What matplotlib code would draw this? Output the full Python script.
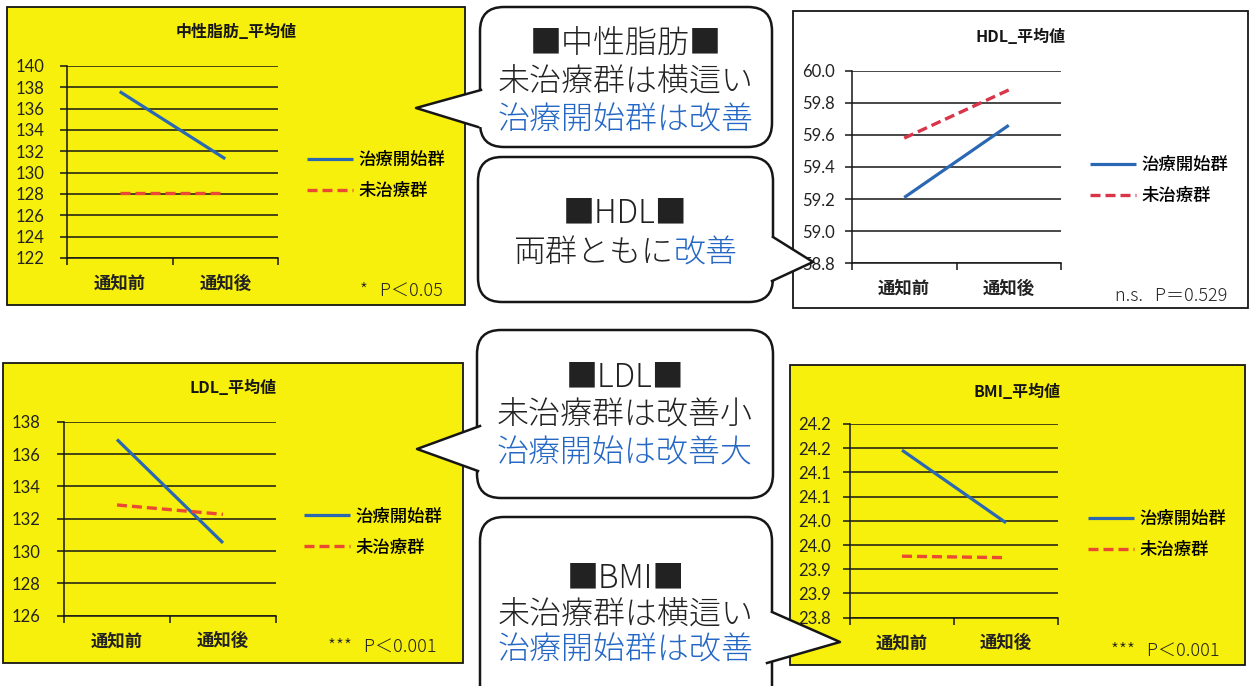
import numpy as np
import matplotlib.pyplot as plt
from matplotlib.patches import Rectangle, FancyBboxPatch, Polygon
from matplotlib.lines import Line2D

W, H = 1249, 686
plt.rcParams['font.family'] = ['Noto Sans CJK JP', 'DejaVu Sans']

categories = ['通知前', '通知後']
series_names = ['治療開始群', '未治療群']

# values (before / after notice)
tg_treated = [137.6, 131.3]
tg_untreated = [128.1, 128.1]
hdl_treated = [59.21, 59.66]
hdl_untreated = [59.58, 59.88]
ldl_treated = [136.9, 130.5]
ldl_untreated = [132.85, 132.27]
bmi_treated = [24.146, 23.996]
bmi_untreated = [23.927, 23.924]

tg_ticks = [122, 124, 126, 128, 130, 132, 134, 136, 138, 140]
hdl_ticks = [58.8, 59.0, 59.2, 59.4, 59.6, 59.8, 60.0]
ldl_ticks = [126, 128, 130, 132, 134, 136, 138]
bmi_ticks = [23.8, 23.85, 23.9, 23.95, 24.0, 24.05, 24.1, 24.15, 24.2]
bmi_tick_labels = ['23.8', '23.9', '23.9', '24.0', '24.0', '24.1', '24.1', '24.2', '24.2']

titles = ['中性脂肪_平均値', 'HDL_平均値', 'LDL_平均値', 'BMI_平均値']
p_notes = ['*   P＜0.05', 'n.s.   P＝0.529', '***   P＜0.001', '***   P＜0.001']

bubble_texts = [
    [[('■中性脂肪■', 'k')], [('未治療群は横這い', 'k')], [('治療開始群は改善', 'b')]],
    [[('■HDL■', 'k')], [('両群ともに', 'k'), ('改善', 'b')]],
    [[('■LDL■', 'k')], [('未治療群は改善小', 'k')], [('治療開始は改善大', 'b')]],
    [[('■BMI■', 'k')], [('未治療群は横這い', 'k')], [('治療開始群は改善', 'b')]],
]

BLUE = '#2a68b4'
YELLOW = '#f7ef0c'
INK = '#161616'
TXT_BLUE = '#2467c4'

fig = plt.figure(figsize=(W / 100, H / 100), dpi=100)
bg = fig.add_axes([0, 0, 1, 1], zorder=0)
bg.set_xlim(0, W); bg.set_ylim(H, 0); bg.axis('off')
top = fig.add_axes([0, 0, 1, 1], zorder=3)
top.set_xlim(0, W); top.set_ylim(H, 0); top.axis('off')
top.patch.set_alpha(0)


def px_rect(x0, y0, x1, y1):
    return [x0 / W, 1 - y1 / H, (x1 - x0) / W, (y1 - y0) / H]


def panel(box, area, face, title, title_y, ticks, tick_labels, treated, untreated,
          red, note, note_xy, leg_xy, ypad):
    x0, y0, x1, y1 = box
    bg.add_patch(Rectangle((x0, y0), x1 - x0, y1 - y0, facecolor=face,
                           edgecolor=INK, lw=1.3))
    bg.text((x0 + x1) / 2, title_y, title, ha='center', va='center',
            fontsize=11.5, fontweight='bold', color=INK)
    bg.text(note_xy[0], note_xy[1], note, ha='right', va='center',
            fontsize=13, color='#222', fontweight='light')

    ax = fig.add_axes(px_rect(*area), zorder=1)
    ax.patch.set_alpha(0)
    xs = [0.5, 1.5]
    ax.plot(xs, treated, color=BLUE, lw=2.3, solid_capstyle='butt',
            label=series_names[0])
    ax.plot(xs, untreated, color=red, lw=2.4, dashes=(3.0, 1.5),
            label=series_names[1])
    ax.set_xlim(0, 2)
    ax.set_ylim(ticks[0], ticks[-1])
    ax.set_yticks(ticks)
    ax.set_yticklabels(tick_labels, family=['Lato', 'DejaVu Sans'],
                       fontsize=12, color='#222')
    ax.yaxis.grid(True, color=INK, lw=1.1)
    ax.set_xticks([0, 1, 2])
    ax.set_xticklabels([])
    ax.set_xticks(xs, minor=True)
    ax.set_xticklabels(categories, minor=True, fontsize=12.5,
                       fontweight='bold', color='#222')
    ax.tick_params(axis='x', which='minor', length=0, pad=12)
    ax.tick_params(axis='x', which='major', length=5, width=1.1, color=INK)
    ax.tick_params(axis='y', length=5, width=1.1, color=INK, pad=ypad)
    for s in ['top', 'right']:
        ax.spines[s].set_visible(False)
    for s in ['left', 'bottom']:
        ax.spines[s].set_color(INK)
        ax.spines[s].set_linewidth(1.1)
    ax.legend(loc='center left', bbox_to_anchor=leg_xy,
              bbox_transform=bg.transData, frameon=False,
              prop={'size': 12.5, 'weight': 'medium'},
              handlelength=2.65, handletextpad=0.3, labelspacing=0.75,
              borderpad=0, borderaxespad=0)
    return ax


panel((7, 7, 465, 305), (67, 66, 278, 258), YELLOW, titles[0], 32,
      tg_ticks, [str(t) for t in tg_ticks], tg_treated, tg_untreated,
      '#ea4a33', p_notes[0], (443, 291), (307, 175.5), 11)
panel((793, 11, 1248, 308), (852, 70.7, 1061, 263.3), 'white', titles[1], 37,
      hdl_ticks, ['%.1f' % t for t in hdl_ticks], hdl_treated, hdl_untreated,
      '#d8344a', p_notes[1], (1227, 296), (1090, 180.5), 7)
panel((3, 363, 463, 663), (64, 421.7, 276, 615.7), YELLOW, titles[2], 388,
      ldl_ticks, [str(t) for t in ldl_ticks], ldl_treated, ldl_untreated,
      '#ea4a33', p_notes[2], (437, 647), (304, 532), 12)
panel((790, 365, 1245, 665), (850, 424, 1058, 617.7), YELLOW, titles[3], 392,
      bmi_ticks, bmi_tick_labels, bmi_treated, bmi_untreated,
      '#ea4a33', p_notes[3], (1220, 651), (1088, 534.5), 9)


def bubble(box, tail, lines, line_y, fs=23):
    x0, y0, x1, y1 = box
    top.add_patch(FancyBboxPatch((x0, y0), x1 - x0, y1 - y0,
                                 boxstyle='round,pad=0,rounding_size=24',
                                 fc='white', ec=INK, lw=1.8, zorder=2))
    b1, tip, b2 = tail
    d = 4 if tip[0] < x0 else -4
    top.add_patch(Polygon([b1, tip, b2, (b2[0] + d, b2[1]), (b1[0] + d, b1[1])],
                          closed=True, fc='white', ec='none', zorder=3))
    top.add_line(Line2D([b1[0], tip[0], b2[0]], [b1[1], tip[1], b2[1]],
                        color=INK, lw=1.8, zorder=4))
    cx = (x0 + x1) / 2
    em = fs * 100 / 72
    for segs, y in zip(lines, line_y):
        if len(segs) == 1:
            txt, c = segs[0]
            top.text(cx, y, txt, ha='center', va='center', fontsize=fs,
                     fontweight='light',
                     color=TXT_BLUE if c == 'b' else '#222', zorder=5)
        else:
            n = sum(len(t) for t, _ in segs)
            split = cx + (len(segs[0][0]) - n / 2) * em
            top.text(split, y, segs[0][0], ha='right', va='center', fontsize=fs,
                     fontweight='light', color='#222', zorder=5)
            top.text(split, y, segs[1][0], ha='left', va='center', fontsize=fs,
                     fontweight='light', color=TXT_BLUE, zorder=5)


bubble((480, 7, 772, 147), [(481, 90), (416, 108), (478, 127)],
       bubble_texts[0], [45, 82, 120])
bubble((478, 157, 773, 302), [(773, 237), (813, 262), (772, 281)],
       bubble_texts[1], [213, 253])
bubble((477, 330, 773, 498), [(480, 426), (417, 449), (478, 471)],
       bubble_texts[2], [377, 415, 453])
bubble((480, 517, 772, 710), [(772, 612), (840, 642), (767, 663)],
       bubble_texts[3], [578, 615, 650])

fig.savefig('out.png', dpi=100, facecolor='white')
